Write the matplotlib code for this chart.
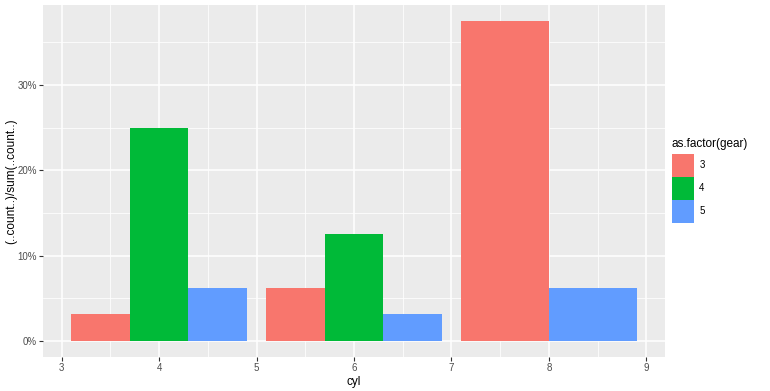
import numpy as np
import matplotlib
matplotlib.use("Agg")
import matplotlib.pyplot as plt
from matplotlib.patches import Patch
from matplotlib.ticker import FuncFormatter, MultipleLocator

plt.rcParams['font.family'] = ['Liberation Sans', 'DejaVu Sans']

# mtcars counts by cyl and gear
cyl = [4, 6, 8]
gears = ["3", "4", "5"]
counts = {
    "3": [1, 2, 12],
    "4": [8, 4, 0],
    "5": [2, 1, 2],
}
colors = {"3": "#F8766D", "4": "#00BA38", "5": "#619CFF"}
xticks = [3, 4, 5, 6, 7, 8, 9]
yticks = [0, 0.1, 0.2, 0.3]

total = sum(sum(v) for v in counts.values())

fig = plt.figure(figsize=(7.7, 3.91), dpi=100)
ax = fig.add_axes([43 / 770, 34 / 391, 622 / 770, 352 / 391])
ax.set_facecolor("#EBEBEB")

width = 0.9 * 2  # resolution of cyl is 2
for i, c in enumerate(cyl):
    present = [g for g in gears if counts[g][i] > 0]
    w = width / len(present)
    left = c - width / 2
    for j, g in enumerate(present):
        ax.bar(left + j * w, counts[g][i] / total, width=w, align="edge",
               color=colors[g], linewidth=0, zorder=3)

ax.set_xlim(2.81, 9.19)
ax.set_ylim(-0.01875, 0.39375)
ax.set_xticks(xticks)
ax.set_yticks(yticks)
ax.xaxis.set_minor_locator(MultipleLocator(0.5))
ax.yaxis.set_minor_locator(MultipleLocator(0.05))
ax.yaxis.set_major_formatter(FuncFormatter(lambda v, p: f"{v * 100:.0f}%"))
ax.grid(which="major", color="white", linewidth=1.1, zorder=1)
ax.grid(which="minor", color="white", linewidth=0.55, zorder=1)
ax.set_axisbelow(True)
for s in ax.spines.values():
    s.set_visible(False)
ax.tick_params(which="major", length=3, color="#333333", width=0.8,
               labelsize=7, labelcolor="#4D4D4D", pad=1.5)
ax.tick_params(which="minor", length=0)

ax.set_xlabel("cyl", fontsize=8.5, labelpad=2)
fig.text(11 / 770, 1 - 181 / 391, "(..count..)/sum(..count..)", rotation=90,
         ha="center", va="center", fontsize=8.5)

handles = [Patch(facecolor=colors[g], edgecolor="none") for g in gears]
leg = fig.legend(handles, gears, title="as.factor(gear)", loc="upper left",
                 bbox_to_anchor=(672 / 770, 1 - 138 / 391), frameon=False,
                 fontsize=7, title_fontsize=8.5, handlelength=2.3,
                 handleheight=3.26, labelspacing=0, handletextpad=0.5,
                 borderaxespad=0, borderpad=0)
leg._legend_box.align = "left"
leg._legend_box.sep = 3

fig.savefig("out.png", dpi=100)
